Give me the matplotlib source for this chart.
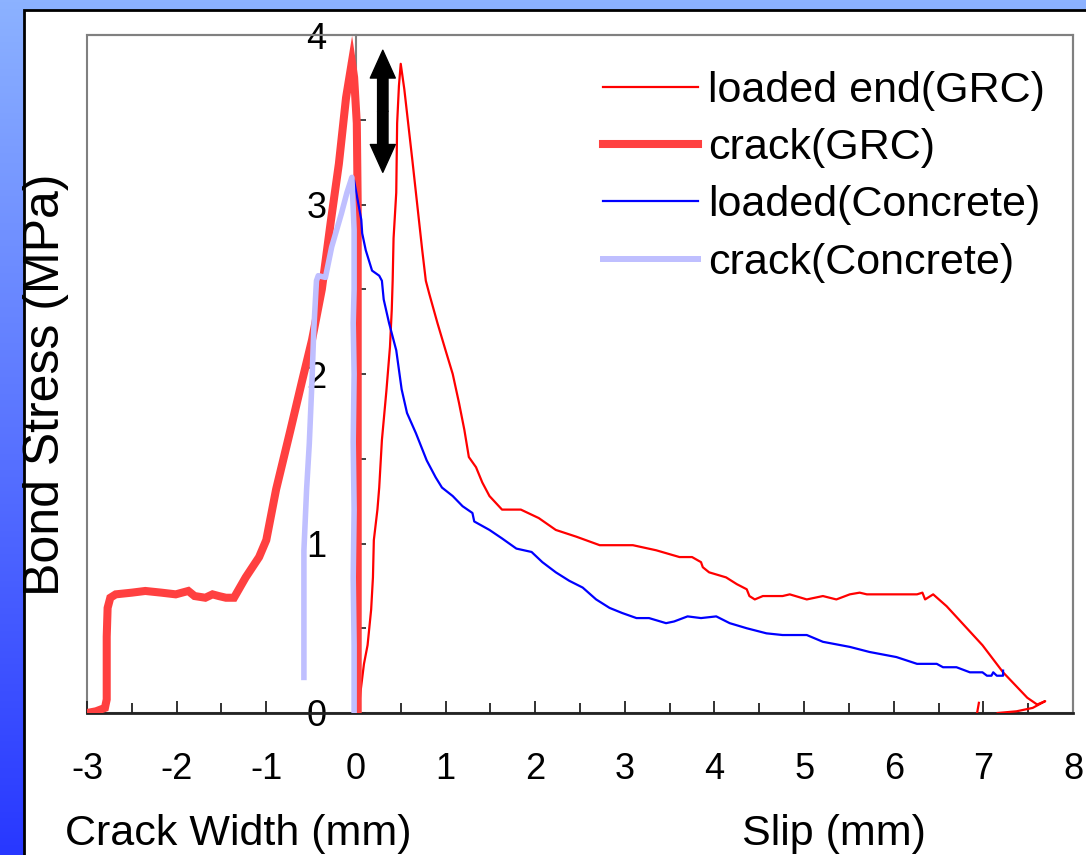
import numpy as np
import matplotlib
matplotlib.use("Agg")
import matplotlib.pyplot as plt
from matplotlib.patches import Rectangle, FancyArrowPatch, ArrowStyle
from matplotlib.ticker import MultipleLocator, FixedLocator

plt.rcParams['font.family'] = ['Liberation Sans', 'DejaVu Sans']

# ---------------- data ----------------
loaded_grc_x = [0.03, 0.05, 0.09, 0.13, 0.17, 0.19, 0.20, 0.24, 0.26, 0.29, 0.34, 0.38, 0.40, 0.41,
                0.42, 0.45, 0.46, 0.48, 0.50, 0.54, 0.63, 0.74, 0.78, 0.82, 0.91, 1.00, 1.08, 1.15,
                1.21, 1.26, 1.34, 1.41, 1.49, 1.63, 1.84, 2.04, 2.23, 2.46, 2.72, 2.90, 3.09, 3.35,
                3.61, 3.75, 3.85, 3.87, 3.94, 4.13, 4.25, 4.36, 4.39, 4.45, 4.54, 4.76, 4.84, 5.03,
                5.21, 5.36, 5.51, 5.62, 5.70, 6.26, 6.32, 6.35, 6.44, 6.59, 6.99, 7.22, 7.49, 7.60,
                7.69, 7.55, 7.37, 7.16, np.nan, 6.93, 6.95]
loaded_grc_y = [0.00, 0.12, 0.29, 0.40, 0.61, 0.80, 1.02, 1.20, 1.33, 1.61, 1.90, 2.16, 2.38, 2.55,
                2.80, 3.07, 3.48, 3.70, 3.83, 3.68, 3.26, 2.73, 2.55, 2.47, 2.30, 2.14, 2.00, 1.83,
                1.67, 1.51, 1.45, 1.36, 1.28, 1.20, 1.20, 1.15, 1.08, 1.04, 0.99, 0.99, 0.99, 0.96,
                0.92, 0.92, 0.89, 0.86, 0.83, 0.80, 0.76, 0.73, 0.69, 0.67, 0.69, 0.69, 0.70, 0.67,
                0.69, 0.67, 0.70, 0.71, 0.70, 0.70, 0.71, 0.67, 0.70, 0.63, 0.40, 0.24, 0.09, 0.05,
                0.07, 0.03, 0.01, 0.00, np.nan, 0.00, 0.06]

crack_grc_x = [-3.00, -2.90, -2.80, -2.78, -2.78, -2.78, -2.77, -2.74, -2.68, -2.50, -2.35, -2.17,
               -2.01, -1.87, -1.80, -1.68, -1.60, -1.53, -1.45, -1.36, -1.23, -1.08, -1.00, -0.89,
               -0.73, -0.60, -0.49, -0.38, -0.28, -0.19, -0.11, -0.045, -0.02, 0.01, 0.02, 0.02,
               0.02, 0.02]
crack_grc_y = [0.00, 0.01, 0.03, 0.08, 0.12, 0.45, 0.62, 0.68, 0.70, 0.71, 0.72, 0.71,
               0.70, 0.72, 0.69, 0.68, 0.70, 0.69, 0.68, 0.68, 0.80, 0.92, 1.02, 1.32,
               1.67, 1.96, 2.20, 2.50, 2.90, 3.24, 3.63, 3.84, 3.75, 3.48, 3.00, 2.00,
               1.00, 0.00]

loaded_con_x = [-0.02, 0.06, 0.07, 0.11, 0.18, 0.26, 0.29, 0.31, 0.37, 0.45, 0.51, 0.57, 0.67,
                0.79, 0.89, 0.96, 1.08, 1.19, 1.30, 1.32, 1.49, 1.63, 1.79, 1.96, 2.08, 2.23,
                2.38, 2.53, 2.68, 2.83, 2.97, 3.13, 3.27, 3.46, 3.55, 3.70, 3.85, 4.02, 4.17,
                4.36, 4.58, 4.76, 5.03, 5.21, 5.51, 5.73, 6.03, 6.26, 6.48, 6.55, 6.70, 6.85,
                6.99, 7.04, 7.09, 7.11, 7.15, 7.22, 7.22]
loaded_con_y = [3.14, 2.91, 2.83, 2.73, 2.61, 2.58, 2.55, 2.44, 2.30, 2.14, 1.91, 1.77, 1.65,
                1.49, 1.39, 1.33, 1.28, 1.22, 1.18, 1.13, 1.08, 1.03, 0.97, 0.95, 0.89, 0.83,
                0.78, 0.74, 0.67, 0.62, 0.59, 0.56, 0.56, 0.53, 0.54, 0.57, 0.56, 0.57, 0.53,
                0.50, 0.47, 0.46, 0.46, 0.42, 0.39, 0.36, 0.33, 0.29, 0.29, 0.27, 0.27, 0.24,
                0.24, 0.22, 0.22, 0.24, 0.22, 0.22, 0.25]

crack_con_x = [-0.58, -0.58, -0.58, -0.55, -0.52, -0.49, -0.47, -0.44, -0.42, -0.34, -0.27, -0.16,
               -0.10, -0.045, -0.02, -0.02, -0.03, -0.02, -0.03, -0.02, -0.03, -0.02, -0.02]
crack_con_y = [0.21, 0.60, 0.96, 1.32, 1.59, 1.96, 2.26, 2.55, 2.58, 2.57, 2.75, 2.95,
               3.07, 3.16, 2.85, 2.50, 2.30, 2.00, 1.60, 1.20, 0.80, 0.40, 0.00]

labels = ["loaded end(GRC)", "crack(GRC)", "loaded(Concrete)", "crack(Concrete)"]
x_ticks = [-3, -2, -1, 0, 1, 2, 3, 4, 5, 6, 7, 8]
y_ticks = [0, 1, 2, 3, 4]

# ---------------- figure ----------------
W, H = 1086, 855
fig = plt.figure(figsize=(W / 100, H / 100), dpi=100)

# blue gradient background
bg = fig.add_axes([0, 0, 1, 1], zorder=-10)
bg.set_axis_off()
top_c = np.array([140, 178, 255]) / 255
bot_c = np.array([40, 56, 255]) / 255
t = np.linspace(0, 1, 256)[:, None]
grad = top_c[None, :] * (1 - t) + bot_c[None, :] * t
grad = np.repeat(grad[:, None, :], 2, axis=1)
bg.imshow(grad, extent=[0, 1, 0, 1], aspect='auto', origin='upper')
bg.set_xlim(0, 1)
bg.set_ylim(0, 1)
bg.add_patch(Rectangle((24 / W, -0.1), 1.2, 1 - 10 / H + 0.1, facecolor='white',
                       edgecolor='black', linewidth=2))

# main axes
L, R, T, B = 87, 1073, 35, 713
ax = fig.add_axes([L / W, 1 - B / H, (R - L) / W, (B - T) / H])
ax.set_xlim(-3, 8)
ax.set_ylim(0, 4)
ax.patch.set_alpha(0)

c_thin_red = '#FF0000'
c_thick_red = '#FF4040'
c_blue = '#0000FF'
c_lav = '#BFBFFF'

ax.plot(loaded_grc_x, loaded_grc_y, color=c_thin_red, lw=1.6, label=labels[0], zorder=3)
ax.plot(crack_grc_x, crack_grc_y, color=c_thick_red, lw=5.8, label=labels[1], zorder=4,
        solid_joinstyle='miter')
ax.plot(loaded_con_x, loaded_con_y, color=c_blue, lw=1.6, label=labels[2], zorder=5)
ax.plot(crack_con_x, crack_con_y, color=c_lav, lw=4.0, label=labels[3], zorder=6)

# spines / frame
for s in ['top', 'right']:
    ax.spines[s].set_color('#808080')
    ax.spines[s].set_linewidth(1.5)
ax.spines['left'].set_position(('data', 0))
ax.spines['left'].set_color('#808080')
ax.spines['left'].set_linewidth(1.5)
ax.spines['bottom'].set_color('#222222')
ax.spines['bottom'].set_linewidth(2)
ax.add_patch(Rectangle((0, 0), 1, 1, transform=ax.transAxes, fill=False,
                       edgecolor='#808080', linewidth=1.5, zorder=1, clip_on=False))

ax.xaxis.set_major_locator(FixedLocator(x_ticks))
ax.xaxis.set_minor_locator(MultipleLocator(0.5))
ax.set_xticklabels([str(v) for v in x_ticks])
ax.tick_params(axis='x', which='major', direction='in', length=8.6, width=1.3,
               color='#222222', labelsize=26, pad=28)
ax.tick_params(axis='x', which='minor', direction='in', length=7.2, width=1.3,
               color='#222222')

ax.yaxis.set_major_locator(FixedLocator(y_ticks))
ax.yaxis.set_minor_locator(MultipleLocator(0.5))
ax.set_yticklabels([str(v) for v in y_ticks])
ax.tick_params(axis='y', which='both', direction='in', length=7, width=1.3,
               color='#333333', labelsize=26, pad=21)

# double-headed arrow
for y0, y1 in [(3.55, 3.91), (3.55, 3.19)]:
    ax.add_patch(FancyArrowPatch((0.30, y0), (0.30, y1),
                                 arrowstyle=ArrowStyle.Simple(head_length=20, head_width=18,
                                                              tail_width=7.5),
                                 mutation_scale=1, color='black', shrinkA=0, shrinkB=0,
                                 zorder=7))

# legend
leg = ax.legend(loc='upper left', bbox_to_anchor=(603 / W, 1 - 71 / H),
                bbox_transform=fig.transFigure, frameon=False, fontsize=31,
                borderpad=0, borderaxespad=0, handlelength=2.2, handletextpad=0.25,
                labelspacing=0.4)
leg.legend_handles[1].set_linewidth(5.8)
leg.legend_handles[3].set_linewidth(4.3)

# axis titles
fig.text(65 / W, 1 - 845 / H, "Crack Width (mm)", fontsize=31, va='baseline', ha='left')
fig.text(742 / W, 1 - 845 / H, "Slip (mm)", fontsize=31, va='baseline', ha='left')
fig.text(46 / W, 1 - 385 / H, "Bond Stress (MPa)", fontsize=36, rotation=90,
         va='center', ha='center')

fig.savefig("out.png", dpi=100)
